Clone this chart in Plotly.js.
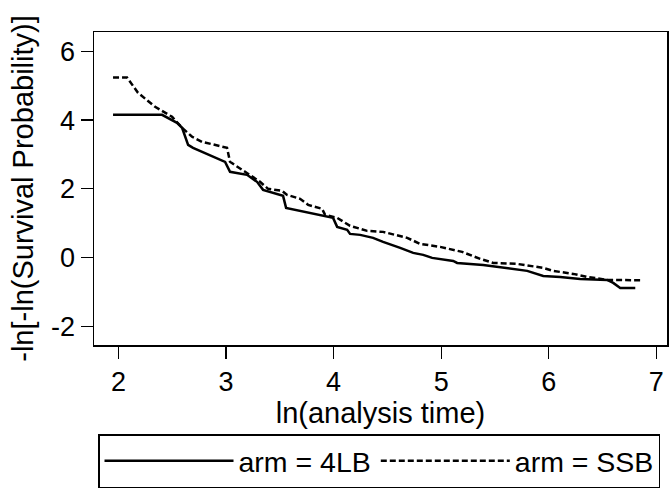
<!DOCTYPE html>
<html>
<head>
<meta charset="utf-8">
<script src="https://cdn.plot.ly/plotly-3.0.1.min.js"></script>
<style>html,body{margin:0;padding:0;background:#fff;}#chart{width:669px;height:502px;}</style>
</head>
<body>
<div id="chart"></div>
<script>
// ln(analysis time) and -ln[-ln(S)] for arm = 4LB
const lb4X = [1.949, 2.405, 2.544, 2.591, 2.647, 2.693, 2.991, 3.037, 3.195, 3.288, 3.344, 3.530, 3.558, 3.781, 3.902, 3.995, 4.033, 4.126, 4.153, 4.247, 4.367, 4.460, 4.619, 4.740, 4.833, 4.916, 5.112, 5.149, 5.391, 5.614, 5.800, 5.949, 6.107, 6.293, 6.544, 6.600, 6.665, 6.805];
const lb4Y = [4.153, 4.153, 3.920, 3.775, 3.280, 3.193, 2.785, 2.495, 2.407, 2.204, 1.971, 1.796, 1.447, 1.302, 1.215, 1.156, 0.895, 0.807, 0.691, 0.662, 0.575, 0.458, 0.284, 0.138, 0.080, -0.007, -0.095, -0.153, -0.211, -0.298, -0.385, -0.531, -0.560, -0.618, -0.647, -0.735, -0.880, -0.880];
// arm = SSB
const ssbX = [1.949, 2.079, 2.181, 2.340, 2.498, 2.591, 2.684, 2.777, 3.009, 3.037, 3.177, 3.316, 3.391, 3.521, 3.567, 3.688, 3.763, 3.893, 3.921, 4.033, 4.153, 4.312, 4.460, 4.684, 4.805, 4.991, 5.195, 5.363, 5.484, 5.707, 5.949, 6.042, 6.228, 6.358, 6.544, 6.870];
const ssbY = [5.238, 5.238, 4.793, 4.385, 4.095, 3.775, 3.513, 3.367, 3.193, 2.785, 2.495, 2.204, 2.000, 1.942, 1.825, 1.709, 1.535, 1.418, 1.244, 1.156, 0.924, 0.778, 0.749, 0.575, 0.400, 0.313, 0.167, -0.036, -0.153, -0.182, -0.298, -0.385, -0.473, -0.560, -0.647, -0.660];
const xTicks = [2, 3, 4, 5, 6, 7];
const yTicks = [-2, 0, 2, 4, 6];
const seriesNames = ["arm = 4LB", "arm = SSB"];

const FONT = "Liberation Sans, Arial, Helvetica, sans-serif";
const traces = [
  {x: lb4X, y: lb4Y, name: seriesNames[0], type: "scatter", mode: "lines",
   line: {color: "#000", width: 2.5}},
  {x: ssbX, y: ssbY, name: seriesNames[1], type: "scatter", mode: "lines",
   line: {color: "#000", width: 2.5, dash: "6px,3px"}}
];
const axisCommon = {
  showgrid: false, zeroline: false, showline: true, mirror: true,
  linecolor: "#000", linewidth: 1.5, ticks: "outside", ticklen: 12,
  tickwidth: 1.3, tickcolor: "#000", tickfont: {family: FONT, size: 27, color: "#000"}
};
const layout = {
  width: 669, height: 502,
  margin: {l: 94, r: 2, t: 32, b: 157},
  paper_bgcolor: "#fff", plot_bgcolor: "#fff",
  font: {family: FONT, size: 27, color: "#000"},
  xaxis: Object.assign({}, axisCommon, {
    range: [1.772, 7.10], tickvals: xTicks, ticktext: xTicks.map(String),
    title: {text: "ln(analysis time)", font: {family: FONT, size: 29, color: "#000"}, standoff: 0}
  }),
  yaxis: Object.assign({}, axisCommon, {
    range: [-2.54, 6.56], tickvals: yTicks, ticktext: yTicks.map(String),
    title: {text: "-ln[-ln(Survival Probability)]", font: {family: FONT, size: 29, color: "#000"}, standoff: 9}
  }),
  showlegend: true,
  legend: {
    orientation: "h", x: 0.007, xanchor: "left",
    y: -0.285, yanchor: "top",
    bordercolor: "#000", borderwidth: 1.5, bgcolor: "#fff",
    font: {family: FONT, size: 28.5, color: "#000"},
    itemwidth: 129, traceorder: "normal"
  }
};
Plotly.newPlot("chart", traces, layout, {displayModeBar: false, staticPlot: true});
</script>
</body>
</html>
